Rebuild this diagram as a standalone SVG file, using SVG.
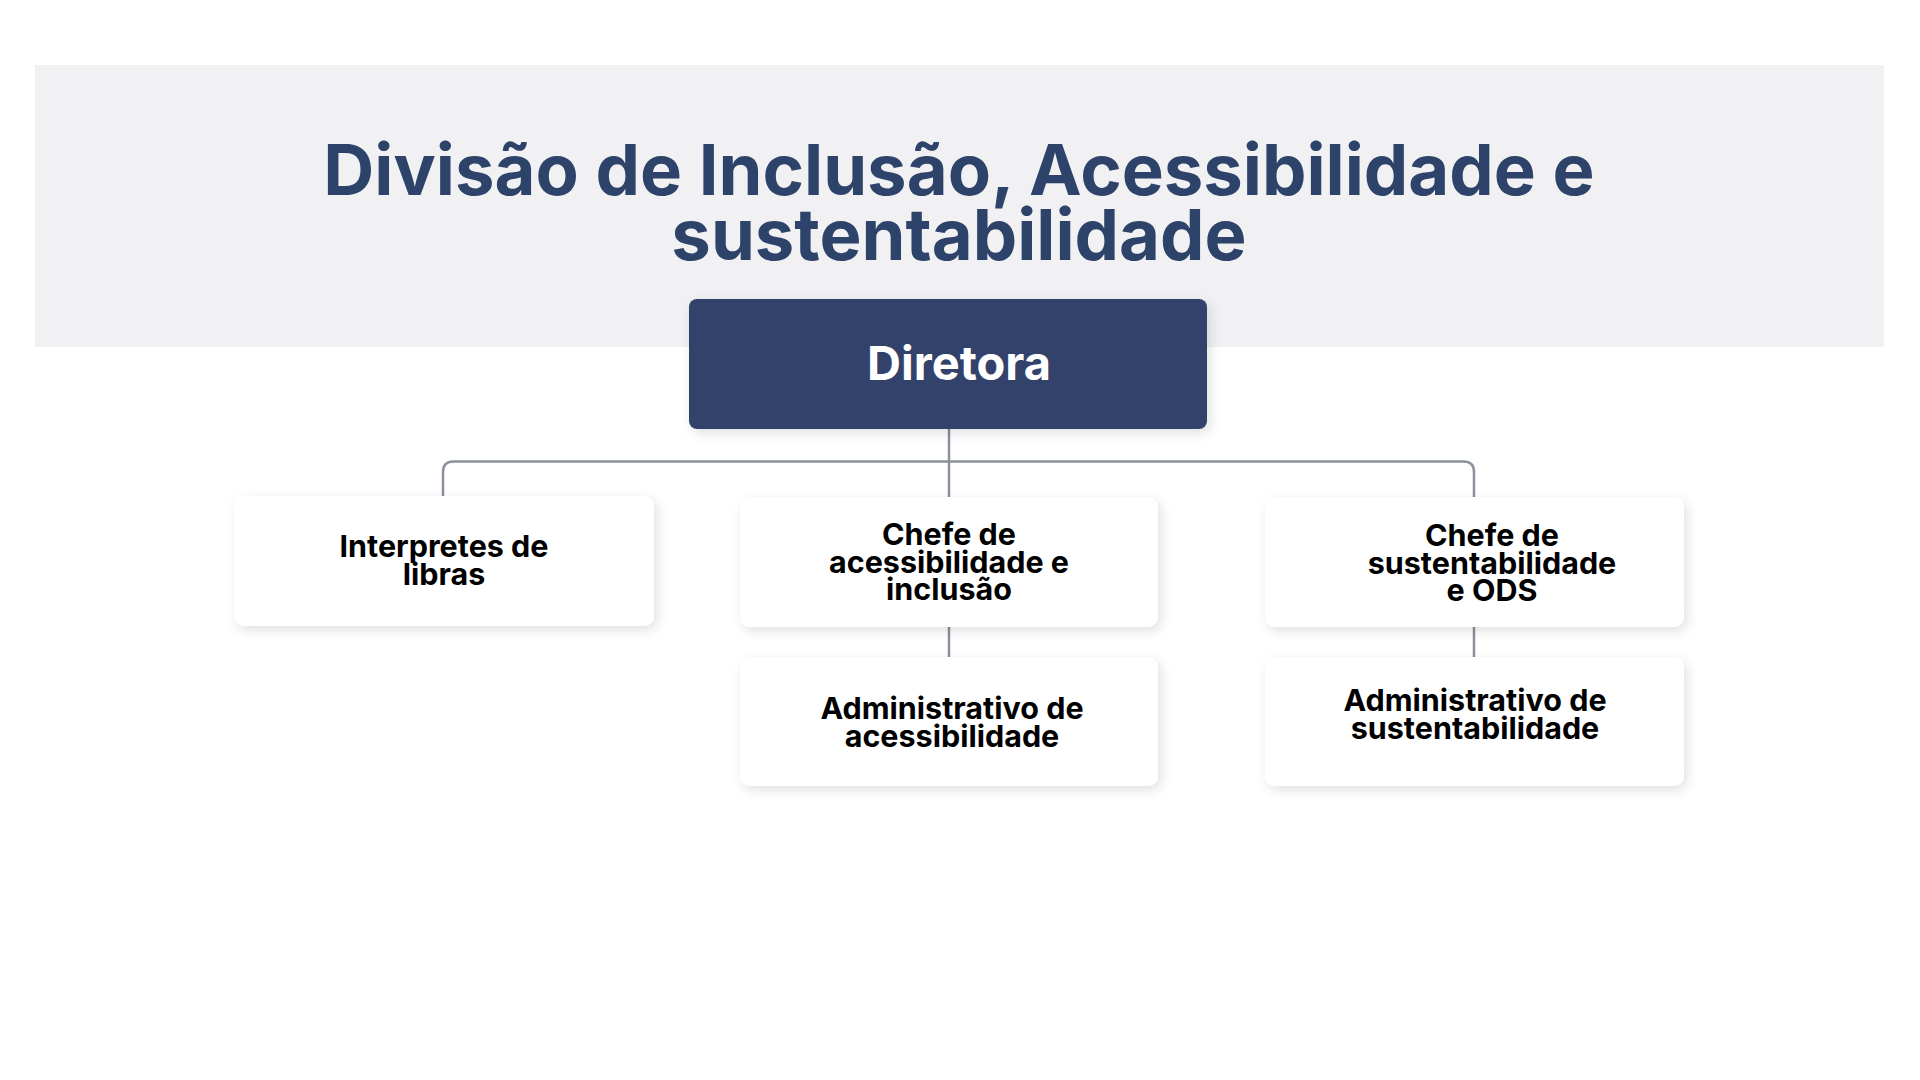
<svg xmlns="http://www.w3.org/2000/svg" width="1920" height="1080" viewBox="0 0 1920 1080">
  <defs>
    <filter id="shadow" x="-10%" y="-20%" width="125%" height="150%">
      <feDropShadow dx="3" dy="4" stdDeviation="6" flood-color="#000000" flood-opacity="0.12"/>
    </filter>
    <style>
      .title { font-family: Inter, "Noto Sans", "Liberation Sans", sans-serif; font-weight: 700; font-size: 70.6px; fill: #2e4369; text-anchor: middle; }
      .box { fill: #ffffff; filter: url(#shadow); }
      .boss { fill: #30436a; filter: url(#shadow); }
      .bossText { font-family: Inter, "Noto Sans", "Liberation Sans", sans-serif; font-weight: 700; font-size: 47px; fill: #ffffff; text-anchor: middle; }
      .label { font-family: Inter, "Noto Sans", "Liberation Sans", sans-serif; font-weight: 700; font-size: 30.5px; fill: #000000; text-anchor: middle; }
      .conn { fill: none; stroke: #8b909b; stroke-width: 2.5; }
    </style>
  </defs>
  <rect width="1920" height="1080" fill="#ffffff"/>
  <rect x="35" y="65" width="1849" height="282" fill="#f1f1f3"/>
  <g id="title">
    <text class="title" x="959" y="195">Divisão de Inclusão, Acessibilidade e</text>
    <text class="title" x="959" y="260">sustentabilidade</text>
  </g>
  <g id="connectors">
    <path class="conn" d="M443 497 V472 Q443 461.5 453.5 461.5 H1463.5 Q1474 461.5 1474 472 V497"/>
    <path class="conn" d="M949 429 V497"/>
    <path class="conn" d="M949 627 V658"/>
    <path class="conn" d="M1474 627 V658"/>
  </g>
  <g id="diretora">
    <rect class="boss" x="689" y="299" width="518" height="130" rx="8"/>
    <text class="bossText" x="959" y="380">Diretora</text>
  </g>
  <g id="interpretes">
    <rect class="box" x="234" y="496" width="420" height="130" rx="10"/>
    <text class="label" x="444" y="557">Interpretes de</text>
    <text class="label" x="444" y="585">libras</text>
  </g>
  <g id="chefe-acessibilidade">
    <rect class="box" x="740" y="497" width="418" height="130" rx="10"/>
    <text class="label" x="949" y="545">Chefe de</text>
    <text class="label" x="949" y="572.5">acessibilidade e</text>
    <text class="label" x="949" y="600">inclusão</text>
  </g>
  <g id="chefe-sustentabilidade">
    <rect class="box" x="1265" y="497" width="419" height="130" rx="10"/>
    <text class="label" x="1492" y="546">Chefe de</text>
    <text class="label" x="1492" y="573.5">sustentabilidade</text>
    <text class="label" x="1492" y="601">e ODS</text>
  </g>
  <g id="admin-acessibilidade">
    <rect class="box" x="740" y="657" width="418" height="129" rx="10"/>
    <text class="label" x="952" y="719">Administrativo de</text>
    <text class="label" x="952" y="746.5">acessibilidade</text>
  </g>
  <g id="admin-sustentabilidade">
    <rect class="box" x="1265" y="657" width="419" height="129" rx="10"/>
    <text class="label" x="1475" y="711">Administrativo de</text>
    <text class="label" x="1475" y="738.5">sustentabilidade</text>
  </g>
</svg>
